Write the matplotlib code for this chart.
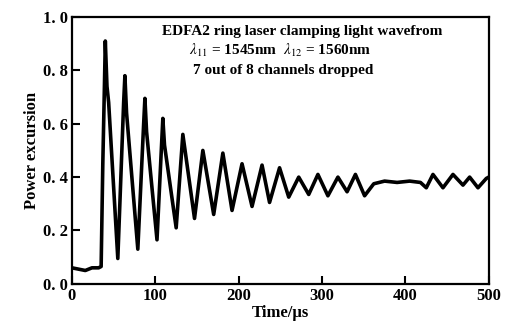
import matplotlib
matplotlib.use("Agg")
import matplotlib.pyplot as plt

# Data
time_us = [0, 8, 16, 24, 32, 35, 37, 39, 40, 42, 44, 55, 62, 63.5, 65.5, 79, 86, 87.5, 89.5,
           102, 109, 111, 125, 133, 147, 157, 170, 181, 192, 204, 216, 228, 237, 249, 260,
           272, 284, 295, 307, 319, 330, 340, 351, 362, 375, 390, 405, 418, 425, 433,
           445, 457, 469, 477, 487, 497, 500]
power = [0.06, 0.055, 0.05, 0.06, 0.06, 0.065, 0.45, 0.75, 0.91, 0.74, 0.68, 0.095, 0.68, 0.78, 0.64,
         0.13, 0.60, 0.695, 0.57, 0.165, 0.62, 0.52, 0.21, 0.56, 0.245, 0.50, 0.26, 0.49, 0.275,
         0.45, 0.29, 0.445, 0.305, 0.435, 0.325, 0.40, 0.335, 0.41, 0.33, 0.40, 0.345, 0.41,
         0.33, 0.375, 0.385, 0.38, 0.385, 0.38, 0.36, 0.41, 0.36, 0.41, 0.37, 0.40, 0.36,
         0.395, 0.40]

xticks = [0, 100, 200, 300, 400, 500]
xticklabels = ["0", "100", "200", "300", "400", "500"]
yticks = [0.0, 0.2, 0.4, 0.6, 0.8, 1.0]
yticklabels = ["0. 0", "0. 2", "0. 4", "0. 6", "0. 8", "1. 0"]

title_lines = ["EDFA2 ring laser clamping light wavefrom",
               r"$\lambda_{11}$ = 1545nm  $\lambda_{12}$ = 1560nm",
               "7 out of 8 channels dropped"]

plt.rcParams['font.family'] = ['Liberation Serif', 'DejaVu Serif']
plt.rcParams['mathtext.fontset'] = 'stix'

fig = plt.figure(figsize=(5.14, 3.27), dpi=100)
ax = fig.add_axes([0.140, 0.132, 0.811, 0.816])
ax.plot(time_us, power, color='black', linewidth=2.6, solid_joinstyle='round')

ax.set_xlim(0, 500)
ax.set_ylim(0, 1.0)
ax.set_xticks(xticks)
ax.set_xticklabels(xticklabels, fontsize=12, fontweight='bold')
ax.set_yticks(yticks)
ax.set_yticklabels(yticklabels, fontsize=12, fontweight='bold')
ax.tick_params(direction='in', length=6, width=1.5, pad=3)
for s in ax.spines.values():
    s.set_linewidth(1.6)

ax.set_xlabel("Time/μs", fontsize=12, fontweight='bold', labelpad=1)
ax.set_ylabel("Power excursion", fontsize=12, fontweight='bold', labelpad=2)

ax.text(108, 0.945, title_lines[0], fontsize=11, fontweight='bold', va='center', ha='left')
ax.text(140, 0.875, title_lines[1], fontsize=11, fontweight='bold', va='center', ha='left')
ax.text(145, 0.800, title_lines[2], fontsize=11, fontweight='bold', va='center', ha='left')

fig.savefig("out.png", dpi=100)
